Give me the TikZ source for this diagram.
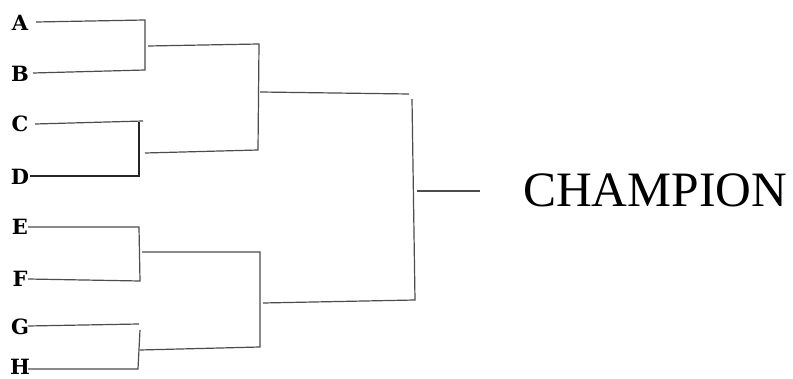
\documentclass[tikz,border=0pt]{standalone}
\usepackage{fontspec}
\setmainfont{Liberation Serif}
\newfontfamily\seedfont{DejaVu Serif}
\begin{document}
\begin{tikzpicture}[x=1pt,y=-1pt,
  seed/.style={anchor=base,inner sep=0pt,font=\seedfont\bfseries\fontsize{21}{21}\selectfont},
  bline/.style={draw=black!70,line width=1.2pt},
  dline/.style={draw=black!85,line width=1.2pt}]
\useasboundingbox (0,0) rectangle (793,379);
% seeds
\node[seed] (A) at (20,31) {A};
\node[seed] (B) at (20,82) {B};
\node[seed] (C) at (20,132) {C};
\node[seed] (D) at (20,185) {D};
\node[seed] (E) at (20,235) {E};
\node[seed] (F) at (20,287) {F};
\node[seed] (G) at (20,335) {G};
\node[seed] (H) at (20,374) {H};
% bracket corners
\coordinate (a0) at (36,22);   \coordinate (a1) at (145,20);
\coordinate (b0) at (33,73);   \coordinate (b1) at (145,70);
\coordinate (c0) at (35,124);  \coordinate (c1) at (143,121);
\coordinate (d0) at (30,176);  \coordinate (d1) at (139,176);
\coordinate (cv) at (139,122);
\coordinate (e0) at (28,227);  \coordinate (e1) at (139,227);
\coordinate (f0) at (28,279);  \coordinate (f1) at (140,281);
\coordinate (g0) at (28,326);  \coordinate (g1) at (139,324);
\coordinate (h0) at (28,369);  \coordinate (h1) at (138,369);
\coordinate (gv) at (140,330);
\coordinate (ab0) at (148,46);  \coordinate (ab1) at (259,44);
\coordinate (cd0) at (145,153); \coordinate (cd1) at (258,150);
\coordinate (ef0) at (142,252); \coordinate (ef1) at (260,252);
\coordinate (gh0) at (140,350); \coordinate (gh1) at (260,347);
\coordinate (t0) at (260,92);   \coordinate (t1) at (409,94);
\coordinate (u0) at (263,303);  \coordinate (u1) at (415,300);
\coordinate (tv) at (412,99);
\coordinate (ch0) at (417,191); \coordinate (ch1) at (480,191);
% first round
\draw[bline] (a0) -- (a1) -- (b1) -- (b0);
\draw[bline] (c0) -- (c1);
\draw[dline] (cv) -- (d1) -- (d0);
\draw[bline] (e0) -- (e1) -- (f1) -- (f0);
\draw[bline] (g0) -- (g1);
\draw[bline] (gv) -- (h1) -- (h0);
% second round
\draw[bline] (ab0) -- (ab1) -- (cd1) -- (cd0);
\draw[bline] (ef0) -- (ef1) -- (gh1) -- (gh0);
% final
\draw[bline] (t0) -- (t1);
\draw[bline] (tv) -- (u1) -- (u0);
\draw[bline] (ch0) -- (ch1);
\node[anchor=base west,inner sep=0pt,font=\fontsize{49.5}{50}\selectfont] (champ) at (523,207) {CHAMPION};
\end{tikzpicture}
\end{document}
